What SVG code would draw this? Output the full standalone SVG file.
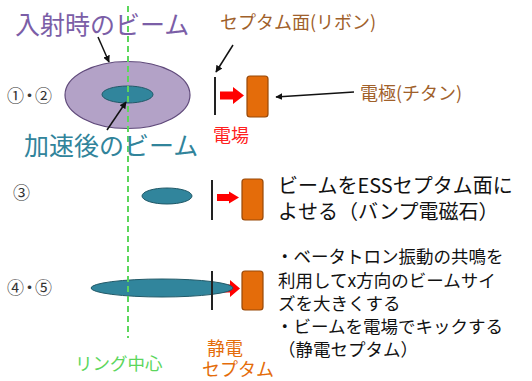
<svg xmlns="http://www.w3.org/2000/svg" width="532" height="381" viewBox="0 0 532 381">
<defs>
<style>
text{font-family:"Noto Sans CJK JP","Noto Sans",sans-serif}
.sep{stroke:#222;stroke-width:2}
.elec{fill:#e46c0a;stroke:#984807;stroke-width:1.2}
.red{fill:#ff0000}
.teal{fill:#31859c;stroke:#215968;stroke-width:1}
.ptr{stroke:#111;stroke-width:1.5;fill:none;marker-end:url(#ah)}
.brown{fill:#a0602a;font-size:18px}
.blk{fill:#111;font-size:17.5px}
.num{fill:#333;font-size:17px;letter-spacing:-3px}
</style>
<marker id="ah" viewBox="0 0 10 10" refX="9" refY="5" markerWidth="7" markerHeight="7" orient="auto" markerUnits="userSpaceOnUse">
<path d="M0,0 L10,5 L0,10 z" fill="#111"/>
</marker>
</defs>
<rect width="532" height="381" fill="#fff"/>

<g id="row1">
<ellipse cx="127.5" cy="95" rx="62.5" ry="33.5" fill="#b3a2c7" stroke="#5f497a" stroke-width="1.2"/>
<ellipse class="teal" cx="127.5" cy="94.5" rx="25.5" ry="8.5"/>
<text class="num" x="7" y="102">①・②</text>
<line class="sep" x1="215" y1="77" x2="215" y2="115"/>
<polygon class="red" points="220,91.5 233,91.5 233,87 244,95.5 233,104 233,99.5 220,99.5"/>
<rect class="elec" x="247" y="76" width="21" height="41" rx="3"/>
</g>

<g id="row2">
<text class="num" x="13" y="199">③</text>
<ellipse class="teal" cx="167" cy="196" rx="25" ry="8"/>
<line class="sep" x1="212" y1="180" x2="212" y2="220"/>
<polygon class="red" points="217,194 229,194 229,191.5 239,197.5 229,203.5 229,201 217,201"/>
<rect class="elec" x="242" y="179" width="21" height="41" rx="3"/>
<text class="blk" style="font-size:20px"><tspan x="278" y="193">ビームをESSセプタム面に</tspan><tspan x="278" y="219">よせる（バンプ電磁石）</tspan></text>
</g>

<g id="row3">
<text class="num" x="7" y="294">④・⑤</text>
<polygon class="red" points="215,284.5 230,284.5 230,280 240,288.5 230,297 230,292.5 215,292.5"/>
<ellipse class="teal" cx="162" cy="288" rx="71" ry="9"/>
<line class="sep" x1="212" y1="271" x2="212" y2="310"/>
<rect class="elec" x="242" y="271" width="21" height="39" rx="3"/>
<text class="blk" x="276" y="263">・ベータトロン振動の共鳴を</text>
<text class="blk" x="278" y="287">利用してx方向のビームサイ</text>
<text class="blk" x="278" y="310">ズを大きくする</text>
<text class="blk" x="276" y="333">・ビームを電場でキックする</text>
<text class="blk" x="278" y="356">（静電セプタム）</text>
</g>

<g id="ring-center">
<line x1="128" y1="6" x2="128" y2="338" stroke="#5cd65c" stroke-width="2" stroke-dasharray="6,4"/>
<text x="75" y="370" fill="#5cd65c" style="font-size:17.5px">リング中心</text>
</g>

<g id="labels">
<text x="15" y="34" fill="#7b5ea7" style="font-size:25px">入射時のビーム</text>
<text x="24" y="155" fill="#31849b" style="font-size:25px">加速後のビーム</text>
<text class="brown" x="220" y="29">セプタム面(リボン)</text>
<text class="brown" x="360" y="100">電極(チタン)</text>
<text x="213" y="142" fill="#ff2020" style="font-size:18px">電場</text>
<text fill="#e46c0a" style="font-size:18px"><tspan x="207" y="355">静電</tspan><tspan x="202" y="376">セプタム</tspan></text>
</g>

<g id="connectors">
<line class="ptr" x1="98" y1="37" x2="109" y2="62"/>
<line class="ptr" x1="107" y1="130" x2="126" y2="102"/>
<line class="ptr" x1="233" y1="45" x2="216" y2="72"/>
<line class="ptr" x1="354" y1="92" x2="276" y2="97"/>
</g>
</svg>
